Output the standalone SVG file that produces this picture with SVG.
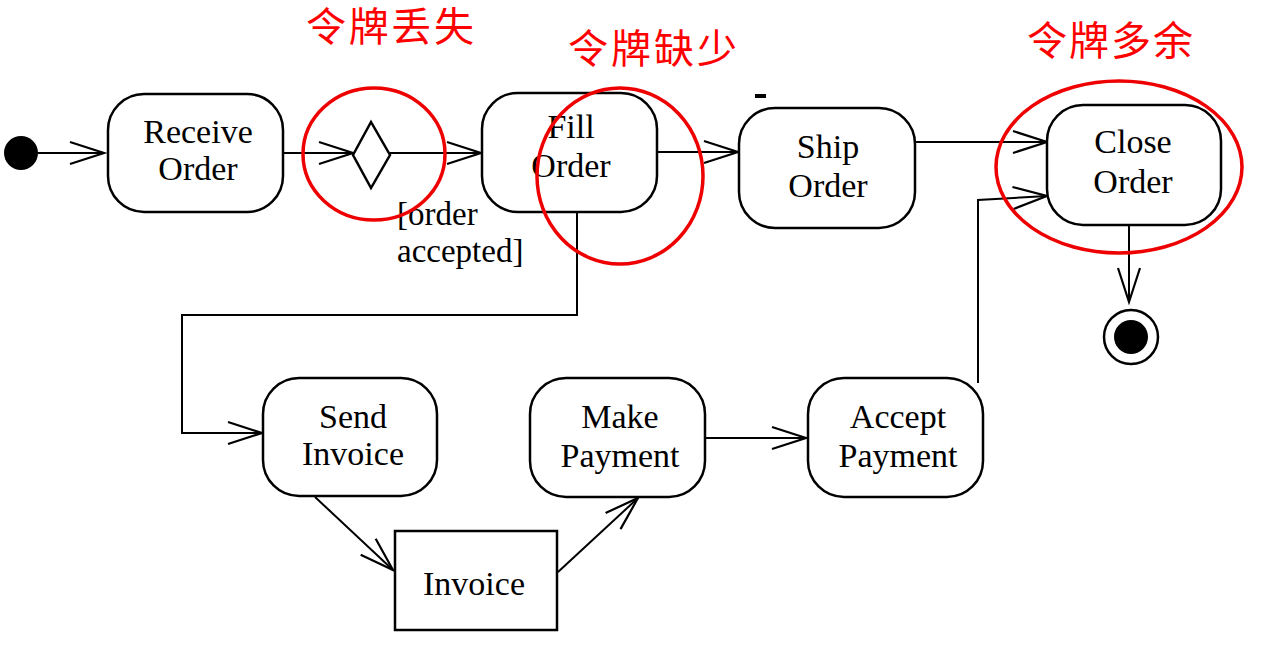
<svg xmlns="http://www.w3.org/2000/svg" width="1261" height="650" viewBox="0 0 1261 650">
<style>
.node{fill:#fff;stroke:#000;stroke-width:2.5}
.lbl{font-family:"Liberation Serif","Times New Roman",serif;font-size:34px;fill:#000;text-anchor:middle}
.guard{font-family:"Liberation Serif","Times New Roman",serif;font-size:33px;fill:#000}
.conn{fill:none;stroke:#000;stroke-width:2}
.red{fill:none;stroke:#e00;stroke-width:3.5}
.title{font-family:"Liberation Serif","Noto Sans CJK SC",serif;font-size:40px;fill:#f00}
</style>
<defs>
<marker id="arr" markerUnits="userSpaceOnUse" markerWidth="40" markerHeight="26" viewBox="0 0 40 26" refX="35" refY="13" orient="auto">
<path d="M1,2 L35,13 L1,24" fill="none" stroke="#000" stroke-width="2.2"/>
</marker>
</defs>
<rect width="1261" height="650" fill="#fff"/>

<g id="connectors">
<line class="conn" x1="38" y1="153" x2="104" y2="153" marker-end="url(#arr)"/>
<line class="conn" x1="283" y1="153" x2="353" y2="153" marker-end="url(#arr)"/>
<line class="conn" x1="390" y1="153" x2="481" y2="153" marker-end="url(#arr)"/>
<line class="conn" x1="658" y1="152" x2="738" y2="152" marker-end="url(#arr)"/>
<line class="conn" x1="915" y1="142" x2="1047" y2="142" marker-end="url(#arr)"/>
<polyline class="conn" points="978,383 978,200 1047,196" marker-end="url(#arr)"/>
<line class="conn" x1="1129" y1="225" x2="1129" y2="302" marker-end="url(#arr)"/>
<polyline class="conn" points="577,212 577,315 182,315 182,433 262,433" marker-end="url(#arr)"/>
<line class="conn" x1="315" y1="497" x2="393" y2="570" marker-end="url(#arr)"/>
<line class="conn" x1="558" y1="572" x2="638" y2="498" marker-end="url(#arr)"/>
<line class="conn" x1="705" y1="438" x2="806" y2="438" marker-end="url(#arr)"/>
</g>

<g id="start"><circle cx="21" cy="153" r="17" fill="#000"/></g>

<g id="receive-order">
<rect class="node" x="108" y="94" width="175" height="118" rx="36"/>
<text class="lbl" x="198" y="143">Receive</text>
<text class="lbl" x="198" y="180">Order</text>
</g>

<g id="decision">
<polygon class="node" points="353,155 371,122 390,155 371,188"/>
</g>

<g id="guard">
<text class="guard" x="397" y="225">[order</text>
<text class="guard" x="397" y="262">accepted]</text>
</g>

<g id="fill-order">
<rect class="node" x="482" y="93" width="175" height="119" rx="36"/>
<text class="lbl" x="571" y="138">Fill</text>
<text class="lbl" x="571" y="177">Order</text>
</g>

<g id="ship-order">
<rect class="node" x="739" y="108" width="176" height="120" rx="36"/>
<rect x="755" y="94" width="11" height="4" fill="#000"/>
<text class="lbl" x="828" y="158">Ship</text>
<text class="lbl" x="828" y="197">Order</text>
</g>

<g id="close-order">
<rect class="node" x="1047" y="105" width="174" height="120" rx="36"/>
<text class="lbl" x="1133" y="153">Close</text>
<text class="lbl" x="1133" y="193">Order</text>
</g>

<g id="end">
<circle cx="1131" cy="337" r="27" fill="#fff" stroke="#000" stroke-width="2.5"/>
<circle cx="1131" cy="337" r="17" fill="#000"/>
</g>

<g id="send-invoice">
<rect class="node" x="263" y="378" width="174" height="118" rx="36"/>
<text class="lbl" x="353" y="428">Send</text>
<text class="lbl" x="353" y="465">Invoice</text>
</g>

<g id="invoice">
<rect class="node" x="395" y="531" width="162" height="99"/>
<text class="lbl" x="474" y="595">Invoice</text>
</g>

<g id="make-payment">
<rect class="node" x="530" y="378" width="175" height="119" rx="36"/>
<text class="lbl" x="620" y="428">Make</text>
<text class="lbl" x="620" y="467">Payment</text>
</g>

<g id="accept-payment">
<rect class="node" x="808" y="378" width="175" height="119" rx="36"/>
<text class="lbl" x="898" y="428">Accept</text>
<text class="lbl" x="898" y="467">Payment</text>
</g>

<g id="annotations">
<ellipse class="red" cx="374" cy="154" rx="71" ry="66"/>
<ellipse class="red" cx="620" cy="176" rx="83" ry="88"/>
<ellipse class="red" cx="1119" cy="167" rx="123" ry="86"/>
<text class="title" x="306" y="41" textLength="168">令牌丢失</text>
<text class="title" x="568" y="63" textLength="169">令牌缺少</text>
<text class="title" x="1027" y="55" textLength="166">令牌多余</text>
</g>
</svg>
